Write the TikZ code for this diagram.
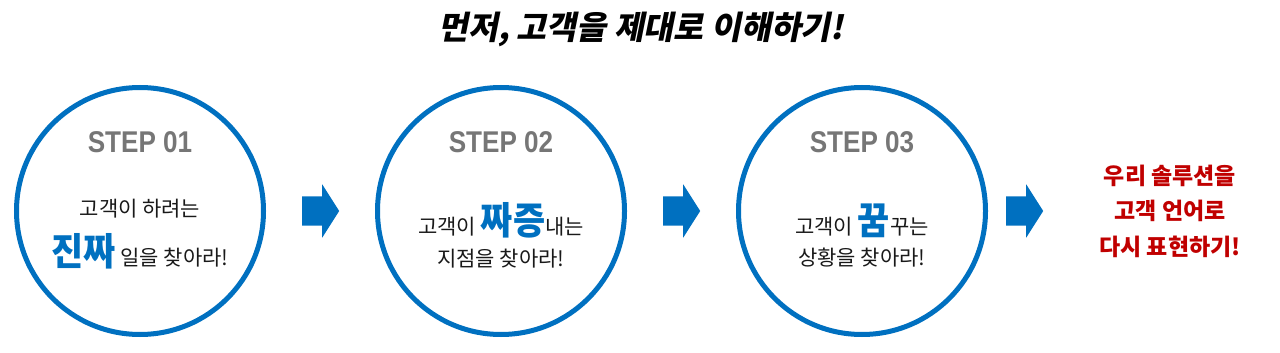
\documentclass[tikz,border=0pt]{standalone}
\usepackage{fontspec}
\usepackage{xcolor}
\usetikzlibrary{positioning, shapes.arrows}
\setmainfont{Noto Sans CJK KR}
\newfontfamily\krfont{Noto Sans CJK KR}
\newfontfamily\wordfont[FakeStretch=0.92]{Noto Sans CJK KR}
\newfontfamily\titlefont[FakeSlant=0.2]{Noto Sans CJK KR}
\newfontfamily\stepfont[FakeStretch=0.87]{Liberation Sans}
\definecolor{stepblue}{HTML}{0070C0}
\definecolor{stepgray}{HTML}{767676}
\definecolor{sayred}{HTML}{C00000}
\newcommand\bigword[1]{{\wordfont\bfseries\fontsize{38}{38}\selectfont\color{stepblue}#1}}

\begin{document}
\begin{tikzpicture}[x=1pt, y=-1pt,
  node distance=109pt,
  stepcircle/.style={circle, draw=stepblue, line width=5pt, minimum size=247pt, inner sep=0pt},
  steptitle/.style={font=\stepfont\bfseries\fontsize{30}{30}\selectfont, text=stepgray},
  textline/.style={anchor=base, inner sep=0pt, font=\krfont\fontsize{21}{24}\selectfont, text=black!90},
  flowarrow/.style={single arrow, fill=stepblue, draw=none, inner xsep=0pt, inner ysep=14.5pt,
                    minimum width=53pt, minimum height=37pt,
                    single arrow head extend=12pt, single arrow tip angle=115, anchor=tail},
  goal/.style={align=center, inner sep=0pt, text=sayred,
               font=\krfont\bfseries\fontsize{23}{35.5}\selectfont}]
\useasboundingbox (0,0) rectangle (1280,353);
\node[font=\titlefont\bfseries\fontsize{32.5}{32.5}\selectfont] (title) at (641,29) {먼저, 고객을 제대로 이해하기!};
% three steps
\node[stepcircle] (want) at (140,211) {};
\node[stepcircle, right=of want] (pain) {};
\node[stepcircle, right=of pain] (dream) {};
\node[steptitle] (want-t) at ([yshift=69pt]want.center) {STEP 01};
\node[steptitle] (pain-t) at ([yshift=69pt]pain.center) {STEP 02};
\node[steptitle] (dream-t) at ([yshift=69pt]dream.center) {STEP 03};
\node[textline] (want-1) at ([yshift=-5pt]want.center) {고객이 하려는};
\node[textline] (want-2) at ([yshift=-54pt]want.center) {\bigword{진짜} 일을 찾아라!};
\node[textline] (pain-1) at ([yshift=-23pt]pain.center) {고객이 \bigword{짜증}내는};
\node[textline] (pain-2) at ([yshift=-55pt]pain.center) {지점을 찾아라!};
\node[textline] (dream-1) at ([yshift=-23pt]dream.center) {고객이 \bigword{꿈}꾸는};
\node[textline] (dream-2) at ([yshift=-54pt]dream.center) {상황을 찾아라!};
% arrows between
\node[flowarrow] (a1) at ([xshift=36pt]want.east) {};
\node[flowarrow] (a2) at ([xshift=36pt]pain.east) {};
\node[flowarrow] (a3) at ([xshift=18pt]dream.east) {};
\node[goal] (voice) at (1170,211) {우리 솔루션을\\고객 언어로\\다시 표현하기!};
\end{tikzpicture}
\end{document}
